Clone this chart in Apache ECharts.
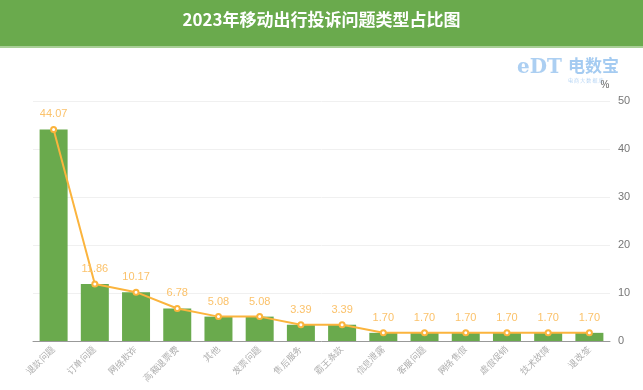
<!DOCTYPE html>
<html><head><meta charset="utf-8">
<script src="https://cdn.jsdelivr.net/npm/echarts@6/dist/echarts.min.js"></script>
<style>html,body{margin:0;padding:0;background:#fff}#c{width:643px;height:390px}</style>
</head><body><div id="c"></div>
<script>
const categories = ['退款问题','订单问题','网络欺诈','高额退票费','其他','发票问题','售后服务','霸王条款','信息泄露','客服问题','网络售假','虚假促销','技术故障','退改签'];
const barValues = [44.07,11.86,10.17,6.78,5.08,5.08,3.39,3.39,1.70,1.70,1.70,1.70,1.70,1.70];
const lineValues = [44.07,11.86,10.17,6.78,5.08,5.08,3.39,3.39,1.70,1.70,1.70,1.70,1.70,1.70];
const yTicks = [0,10,20,30,40,50];

const chart = echarts.init(document.getElementById('c'));
chart.setOption({
  animation:false,
  graphic:[
    {type:'rect',shape:{x:0,y:0,width:643,height:46},style:{fill:'#6aaa4d'}},
    {type:'rect',shape:{x:0,y:46,width:643,height:2},style:{fill:'#a9cf97'}},
    {type:'text',left:'center',top:11,style:{text:'2023年移动出行投诉问题类型占比图',fill:'#fff',font:'bold 17px "Noto Sans CJK SC"'}},
    {type:'text',left:568,top:57,style:{text:'电数宝',fill:'rgba(90,160,230,0.55)',font:'bold 17px "Noto Sans CJK SC"'}},
    {type:'text',left:568,top:78,style:{text:'电 商 大 数 据 库',fill:'rgba(90,160,230,0.45)',font:'5px "Noto Sans CJK SC"'}},
    {type:'text',left:517,top:58,style:{text:'eDT',fill:'rgba(90,160,230,0.5)',font:'bold 20px "DejaVu Serif"'}}
  ],
  grid:{left:33,right:33,top:101,bottom:49,containLabel:false},
  xAxis:{type:'category',data:categories,
    axisLine:{lineStyle:{color:'#999'}},axisTick:{show:false},
    axisLabel:{rotate:45,color:'#aaa',fontSize:9,interval:0,margin:7}},
  yAxis:{type:'value',position:'right',min:0,max:50,interval:10,name:'%',
    nameTextStyle:{color:'#666',fontSize:10,padding:[0,0,-4,-10]},
    axisLine:{show:false},axisTick:{show:false},
    axisLabel:{color:'#777',fontSize:11,margin:8},
    splitLine:{lineStyle:{color:'#f0f0f0'}}},
  series:[
    {type:'bar',data:barValues,barWidth:28,itemStyle:{color:'#6aaa4d'}},
    {type:'line',data:lineValues,symbol:'emptyCircle',symbolSize:5,
      lineStyle:{color:'#fbb43d',width:2},itemStyle:{color:'#fbb43d',borderWidth:1.5},
      label:{show:true,position:'top',color:'#fbc26b',fontSize:11,formatter:p=>p.value.toFixed(2),distance:6}}
  ]
});
</script></body></html>
